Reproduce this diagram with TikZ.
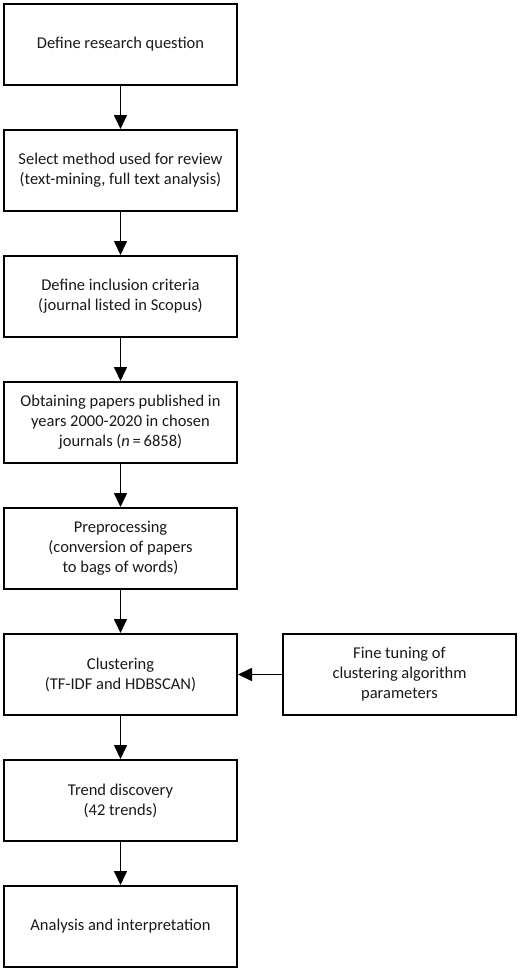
\documentclass[tikz,border=0pt]{standalone}
\usepackage{fontspec}
\setmainfont{Carlito}
\usetikzlibrary{arrows.meta}
\begin{document}
\begin{tikzpicture}[x=1pt,y=-1pt,
  box/.style={draw=black,line width=2pt,minimum width=233pt,minimum height=81pt,
    align=center,inner sep=0pt,font=\fontsize{16.5}{20}\selectfont,text=black!90},
  flow/.style={line width=1.6pt,-{Triangle[width=13pt,length=14pt]}}]
\useasboundingbox (0,0) rectangle (520,972);
\node[box] (b1) at (120.5,44.5) {Define research question};
\node[box] (b2) at (120.5,170.5) {Select method used for review\\(text-mining, full text analysis)};
\node[box] (b3) at (120.5,296.5) {Define inclusion criteria\\(journal listed in Scopus)};
\node[box] (b4) at (120.5,422.5) {Obtaining papers published in\\years 2000-2020 in chosen\\journals (\textit{n}\,=\,6858)};
\node[box] (b5) at (120.5,548.5) {Preprocessing\\(conversion of papers\\to bags of words)};
\node[box] (b6) at (120.5,674.5) {Clustering\\(TF-IDF and HDBSCAN)};
\node[box] (b7) at (120.5,800.5) {Trend discovery\\(42 trends)};
\node[box] (b8) at (120.5,926.5) {Analysis and interpretation};
\node[box] (ft) at (399.5,674.5) {Fine tuning of\\clustering algorithm\\parameters};
\draw[flow] (b1) -- (b2);
\draw[flow] (b2) -- (b3);
\draw[flow] (b3) -- (b4);
\draw[flow] (b4) -- (b5);
\draw[flow] (b5) -- (b6);
\draw[flow] (b6) -- (b7);
\draw[flow] (b7) -- (b8);
\draw[flow] (ft) -- (b6);
\end{tikzpicture}
\end{document}
